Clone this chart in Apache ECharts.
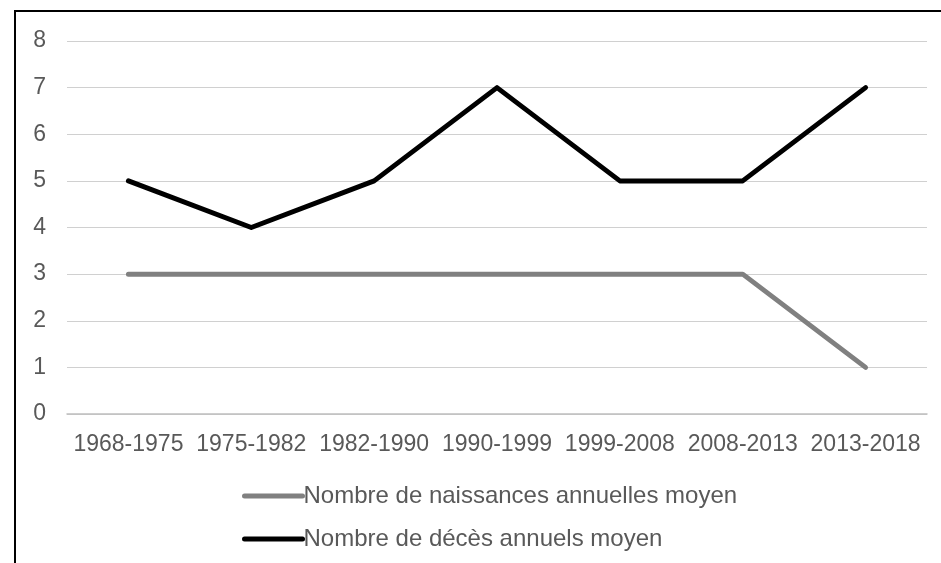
<!DOCTYPE html>
<html>
<head>
<meta charset="utf-8">
<script src="https://cdn.jsdelivr.net/npm/echarts@6/dist/echarts.min.js"></script>
<style>
html,body{margin:0;padding:0;background:#fff;}
#main{width:941px;height:563px;}
</style>
</head>
<body>
<div id="main"></div>
<script>
var categories = ['1968-1975','1975-1982','1982-1990','1990-1999','1999-2008','2008-2013','2013-2018'];
var naissances = [3,3,3,3,3,3,1];
var deces = [5,4,5,7,5,5,7];
var seriesNames = ['Nombre de naissances annuelles moyen','Nombre de décès annuels moyen'];
var yTicks = {min:0, max:8, interval:1};

var chart = echarts.init(document.getElementById('main'));
var font = '"Liberation Sans", Arial, sans-serif';
chart.setOption({
  animation:false,
  backgroundColor:'#ffffff',
  graphic:[{
    type:'rect', silent:true, z:-1,
    shape:{x:15, y:11, width:1000, height:1000},
    style:{fill:'none', stroke:'#000000', lineWidth:2}
  }],
  grid:{left:67, right:14, top:41, bottom:149, containLabel:false},
  legend:{
    orient:'vertical', left:237, top:479,
    itemWidth:58, itemHeight:5, itemGap:19,
    textStyle:{fontFamily:font, fontSize:24, color:'#595959', padding:[0,0,0,-4]},
    data:[
      {name:seriesNames[0], itemStyle:{color:'#808080'}, lineStyle:{width:5, color:'#808080', cap:'round'}},
      {name:seriesNames[1], itemStyle:{color:'#000000'}, lineStyle:{width:5, color:'#000000', cap:'round'}}
    ]
  },
  xAxis:{
    type:'category', data:categories, boundaryGap:true,
    axisLine:{lineStyle:{color:'#bfbfbf', width:1.5}},
    axisTick:{show:false},
    axisLabel:{fontFamily:font, fontSize:23, color:'#595959', margin:19, interval:0}
  },
  yAxis:{
    type:'value', min:yTicks.min, max:yTicks.max, interval:yTicks.interval,
    axisLine:{show:false}, axisTick:{show:false},
    splitLine:{lineStyle:{color:'#d0d0d0', width:1.2}},
    axisLabel:{fontFamily:font, fontSize:23, color:'#595959', margin:21}
  },
  series:[
    {name:seriesNames[0], type:'line', data:naissances, showSymbol:false, symbol:'none',
     lineStyle:{color:'#808080', width:5, cap:'round', join:'round'}, itemStyle:{color:'#808080'}},
    {name:seriesNames[1], type:'line', data:deces, showSymbol:false, symbol:'none',
     lineStyle:{color:'#000000', width:5, cap:'round', join:'round'}, itemStyle:{color:'#000000'}}
  ]
});
</script>
</body>
</html>
